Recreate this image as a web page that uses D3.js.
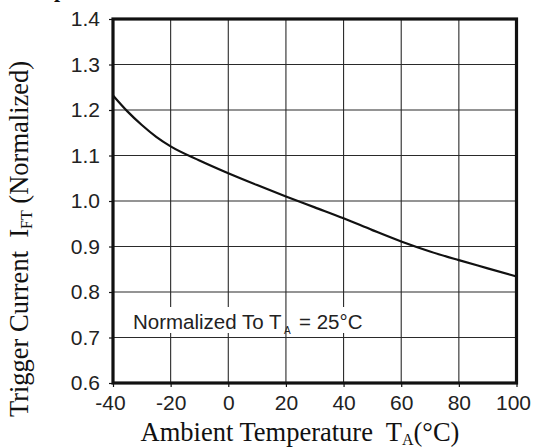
<!DOCTYPE html>
<html><head><meta charset="utf-8">
<script src="https://cdn.jsdelivr.net/npm/d3@7"></script>
<style>html,body{margin:0;padding:0;background:#fff;}svg{display:block;} text{white-space:pre;}</style>
</head><body>
<script>
// Data
const temps = [-40,-35,-30,-25,-20,-10,0,10,20,30,40,50,60,70,80,90,100];
const current = [1.232,1.197,1.167,1.141,1.120,1.089,1.061,1.035,1.010,0.986,0.962,0.936,0.911,0.889,0.870,0.852,0.834];
const xTicks = [-40,-20,0,20,40,60,80,100];
const yTicks = [0.6,0.7,0.8,0.9,1.0,1.1,1.2,1.3,1.4];

const W = 533, H = 448;
const m = {left:113, right:16.5, top:19, bottom:65};
const svg = d3.select("body").append("svg").attr("width",W).attr("height",H);
const x = d3.scaleLinear().domain([-40,100]).range([m.left, W-m.right]);
const y = d3.scaleLinear().domain([0.6,1.4]).range([H-m.bottom, m.top]);

// grid
const g = svg.append("g");
g.selectAll(".vg").data(xTicks).join("line")
  .attr("x1",d=>x(d)).attr("x2",d=>x(d)).attr("y1",y(0.6)).attr("y2",y(1.4))
  .attr("stroke","#2a2a2a").attr("stroke-width",1.1);
g.selectAll(".hg").data(yTicks).join("line")
  .attr("x1",x(-40)).attr("x2",x(100)).attr("y1",d=>y(d)).attr("y2",d=>y(d))
  .attr("stroke","#2a2a2a").attr("stroke-width",1.1);

// annotation with white backgrounds
const ann = svg.append("g").attr("font-family","'Liberation Sans', Arial, sans-serif").attr("fill","#222");
const t1 = ann.append("text").attr("x",133).attr("y",329).attr("font-size",20.5).text("Normalized To T");
const b1 = t1.node().getBBox();
ann.insert("rect","text").attr("x",b1.x-2).attr("y",307).attr("width",b1.width+3).attr("height",26).attr("fill","#fff");
const sub = ann.append("text").attr("x",b1.x+b1.width+2).attr("y",334).attr("font-size",10).text("A");
const sb = sub.node().getBBox();
const t2 = ann.append("text").attr("x",sb.x+sb.width+8).attr("y",329).attr("font-size",20.5).text("= 25°C");
const b2 = t2.node().getBBox();
ann.insert("rect","text").attr("x",b2.x-2).attr("y",307).attr("width",b2.width+4).attr("height",26).attr("fill","#fff");

// curve
const line = d3.line().x((d,i)=>x(temps[i])).y(d=>y(d)).curve(d3.curveMonotoneX);
svg.append("path").datum(current).attr("d",line).attr("fill","none").attr("stroke","#111").attr("stroke-width",2.2);

// frame
svg.append("rect").attr("x",x(-40)).attr("y",y(1.4)).attr("width",x(100)-x(-40)).attr("height",y(0.6)-y(1.4))
  .attr("fill","none").attr("stroke","#111").attr("stroke-width",3.2);

// axes
const xAxis = svg.append("g").attr("transform",`translate(0,${y(0.6)})`)
  .call(d3.axisBottom(x).tickValues(xTicks).tickSize(4).tickPadding(8).tickFormat(d=>d));
const yAxis = svg.append("g").attr("transform",`translate(${x(-40)},0)`)
  .call(d3.axisLeft(y).tickValues(yTicks).tickSize(4).tickPadding(9).tickFormat(d3.format(".1f")));
[xAxis,yAxis].forEach(a=>{
  a.select(".domain").remove();
  a.selectAll("line").attr("stroke","#111").attr("stroke-width",1.2);
  a.selectAll("text").attr("font-family","'Liberation Sans', Arial, sans-serif").attr("font-size",21).attr("fill","#222");
});
xAxis.selectAll("text").text(d=>d<0?"-"+Math.abs(d):d);
xAxis.selectAll(".tick").filter(d=>d===100).select("text").attr("text-anchor","end").attr("x",14);
xAxis.selectAll(".tick").filter(d=>d===-40).select("text").attr("x",-3);

// axis titles
const serif = "'Liberation Serif','Times New Roman',serif";
const xt = svg.append("text").attr("x",300).attr("y",441).attr("text-anchor","middle")
  .attr("font-family",serif).attr("font-size",26.5).attr("fill","#111");
xt.append("tspan").text("Ambient Temperature  T");
xt.append("tspan").attr("font-size",16).attr("dy",4).text("A");
xt.append("tspan").attr("dy",-4).text("(°C)");

const yt = svg.append("text").attr("transform","translate(28,239) rotate(-90)").attr("text-anchor","middle")
  .attr("font-family",serif).attr("font-size",26.5).attr("fill","#111");
yt.append("tspan").text("Trigger Current  I");
yt.append("tspan").attr("font-size",16).attr("dy",4).text("FT");
yt.append("tspan").attr("dy",-4).text(" (Normalized)");

// cut-off title fragment at top-left
svg.append("text").attr("x",54).attr("y",-3).attr("font-family",serif).attr("font-weight","bold").attr("font-size",22).attr("fill","#111").text("p");
</script>
</body></html>
